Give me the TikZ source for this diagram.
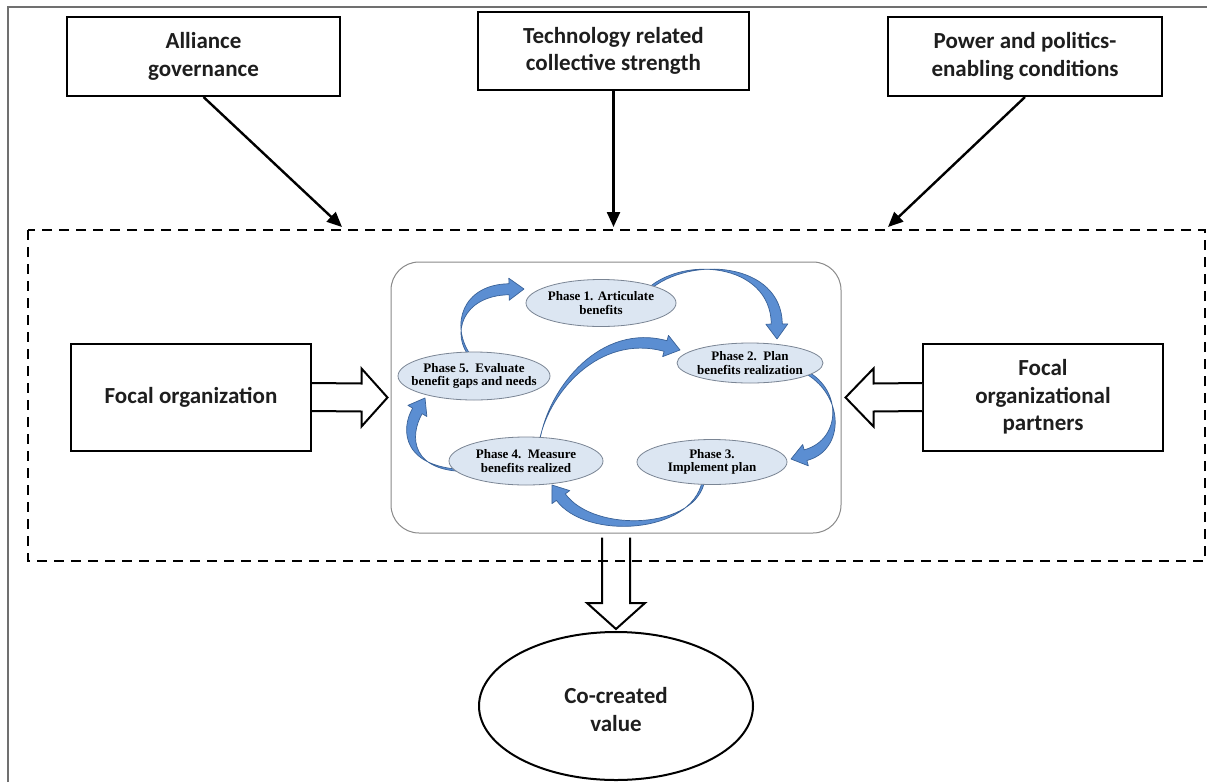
\documentclass[tikz,border=0pt]{standalone}
\usepackage{fontspec}
\setmainfont{Carlito}
\newfontfamily\phasefont{Liberation Serif}
\usetikzlibrary{arrows.meta,shapes.geometric,calc}

\pgfdeclarelayer{paper}
\pgfdeclarelayer{cycle}
\pgfsetlayers{paper,cycle,main}

\definecolor{framegray}{HTML}{707070}
\definecolor{phasefill}{HTML}{DCE6F2}
\definecolor{phaseline}{HTML}{7A8594}
\definecolor{cyclefill}{HTML}{5B8ED2}
\definecolor{cycleline}{HTML}{3A6298}
\definecolor{inktext}{HTML}{1E1E1E}
\definecolor{coreline}{HTML}{8A8A8A}

\tikzset{
  factorbox/.style={draw, line width=2pt, fill=white, align=center, inner sep=0pt,
    font=\fontsize{23}{27.5}\selectfont\bfseries, text=inktext},
  phase/.style={ellipse, draw=phaseline, line width=0.8pt, fill=phasefill,
    inner xsep=-20pt, inner ysep=-6pt, align=center,
    font=\phasefont\fontsize{13}{13.5}\selectfont\bfseries},
  influence/.style={line width=2.4pt, -{Triangle[length=15pt,width=13pt]}},
  blockarrow/.style={draw, line width=2pt, fill=white, line join=miter},
  cyclearrowstyle/.style={fill=cyclefill, draw=cycleline, line width=0.7pt, line join=round},
  envelope/.style={draw, line width=2.4pt, dash pattern=on 10pt off 7pt},
}

% tapered curved arrow: tail, first control, second control, tip
\newcommand{\cyclearrow}[4]{%
  \coordinate (cb) at ($#4!15pt!#3$);
  \coordinate (cbo) at ($(cb)!5.5pt!90:#4$);
  \coordinate (cbi) at ($(cb)!5.5pt!-90:#4$);
  \coordinate (cho) at ($(cb)!11pt!90:#4$);
  \coordinate (chi) at ($(cb)!11pt!-90:#4$);
  \filldraw[cyclearrowstyle] ($#1+0.3*(cbo)-0.3*(cb)$)
    .. controls ($#2+0.8*(cbo)-0.8*(cb)$) and ($#3+(cbo)-(cb)$) .. (cbo)
    -- (cho) -- #4 -- (chi) -- (cbi)
    .. controls ($#3+(cbi)-(cb)$) and ($#2+0.8*(cbi)-0.8*(cb)$) .. ($#1+0.3*(cbi)-0.3*(cb)$) -- cycle;
}

\begin{document}
\begin{tikzpicture}[x=1pt,y=-1pt]
\begin{pgfonlayer}{paper}
  \fill[white] (0,0) rectangle (1207,782);
\end{pgfonlayer}
\useasboundingbox (0,0) rectangle (1207,782);

% page frame
\draw[framegray, line width=1.6pt] (8,782) -- (8,7) -- (1207,7);

% enabling factors
\node[factorbox, minimum width=273pt, minimum height=79pt] (ag) at (203.5,56.5) {Alliance\\governance};
\node[factorbox, minimum width=271pt, minimum height=78pt] (tc) at (613.5,51) {Technology related\\collective strength};
\node[factorbox, minimum width=274pt, minimum height=79pt] (pp) at (1025,56.5) {Power and politics-\\enabling conditions};

% entry points on the alliance envelope
\coordinate (inA) at (342,227);
\coordinate (inT) at (613.5,227);
\coordinate (inP) at (888,227);
\draw[influence] (ag.south) -- (inA);
\draw[influence] (tc.south) -- (inT);
\draw[influence] (pp.south) -- (inP);

% benefits realization cycle
\node[draw=coreline, line width=1pt, rounded corners=28pt, minimum width=450pt, minimum height=271pt] (core) at (616,397.5) {};

\node[phase, minimum width=150pt, minimum height=47pt] (p1) at (601,303) {Phase 1. Articulate\\benefits};
\node[phase, minimum width=146pt, minimum height=40pt] (p2) at (750,363) {Phase 2.\ \ Plan\\benefits realization};
\node[phase, minimum width=150pt, minimum height=45pt] (p3) at (712,462) {Phase 3.\\Implement plan};
\node[phase, minimum width=154pt, minimum height=48pt] (p4) at (526,461) {Phase 4.\ \ Measure\\benefits realized};
\node[phase, minimum width=152pt, minimum height=48pt] (p5) at (474,376) {Phase 5.\ \ Evaluate\\benefit gaps and needs};

\begin{pgfonlayer}{cycle}
  \cyclearrow{($(p5.center)!0.8!(p5.100)$)}{(450,330)}{(462,290)}{(524,289)}
  \cyclearrow{($(p1.center)!0.8!(p1.15)$)}{(685,255)}{(776,262)}{(777,339)}
  \cyclearrow{($(p2.center)!0.8!(p2.-8)$)}{(844,390)}{(844,445)}{(791,459)}
  \cyclearrow{($(p3.center)!0.8!(p3.-115)$)}{(695,532)}{(590,537)}{(552,485)}
  \cyclearrow{($(p4.center)!0.8!(p4.190)$)}{(405,472)}{(405,432)}{(425,398)}
  \cyclearrow{($(p4.center)!0.8!(p4.55)$)}{(548,390)}{(600,328)}{(680,350)}
\end{pgfonlayer}

% organizations feeding the cycle
\node[factorbox, minimum width=240pt, minimum height=107pt] (fo) at (191,397) {Focal organization};
\node[factorbox, minimum width=240pt, minimum height=107pt] (pt) at (1043,397) {Focal\\organizational\\partners};

\filldraw[blockarrow] ($(fo.east)+(0,-14)$) -- ($(core.west)+(-29,-14)$) -- ($(core.west)+(-29,-29)$)
  -- ($(core.west)+(-3,0)$) -- ($(core.west)+(-29,29)$) -- ($(core.west)+(-29,14)$) -- ($(fo.east)+(0,14)$);
\filldraw[blockarrow] ($(pt.west)+(0,-14)$) -- ($(core.east)+(32,-14)$) -- ($(core.east)+(32,-29)$)
  -- ($(core.east)+(4,0)$) -- ($(core.east)+(32,29)$) -- ($(core.east)+(32,14)$) -- ($(pt.west)+(0,14)$);

% outcome
\node[ellipse, draw, line width=2pt, minimum width=274pt, minimum height=148pt, inner sep=0pt,
  font=\fontsize{23}{27.5}\selectfont\bfseries, text=inktext] (cv) at (616,706)
  {\begin{tabular}{@{}c@{}}\rule{0pt}{31pt}Co-created\\value\end{tabular}};

\filldraw[blockarrow] ($(core.south)+(-14,4)$) -- ($(cv.north)+(-14,-28)$) -- ($(cv.north)+(-29,-28)$)
  -- ($(cv.north)+(0,-2)$) -- ($(cv.north)+(29,-28)$) -- ($(cv.north)+(14,-28)$) -- ($(core.south)+(14,4)$);

% alliance envelope
\draw[envelope] (28,230) rectangle (1205,561);
\end{tikzpicture}
\end{document}
